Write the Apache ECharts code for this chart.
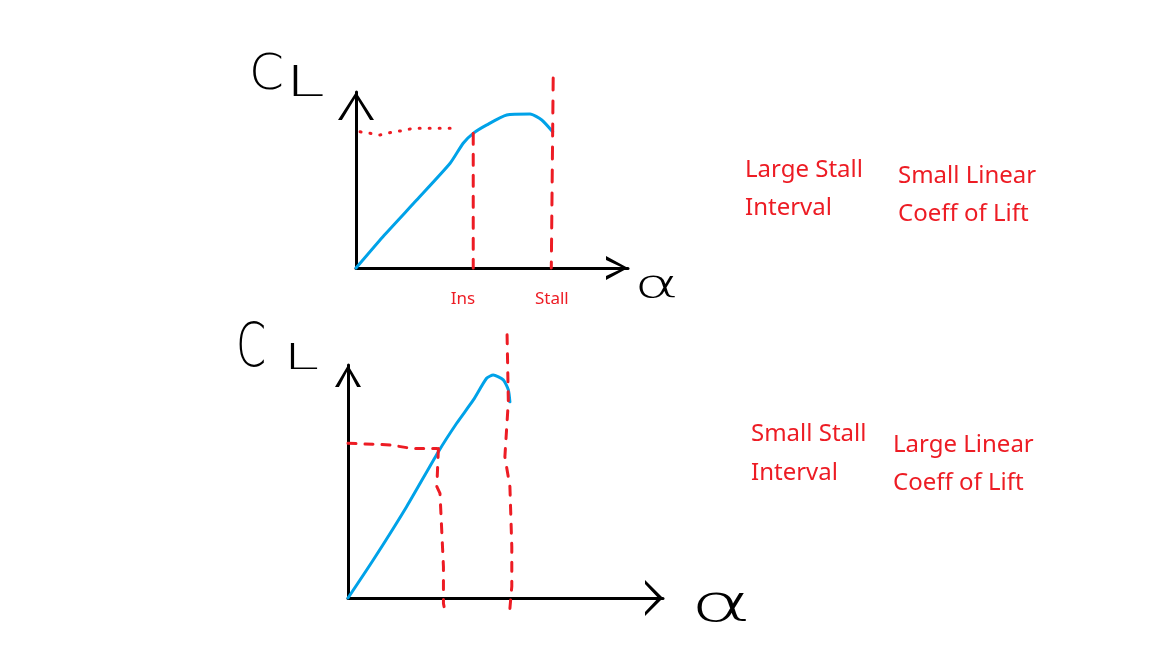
<!DOCTYPE html>
<html>
<head>
<meta charset="utf-8">
<script src="https://cdn.jsdelivr.net/npm/echarts@6/dist/echarts.min.js"></script>
<style>
html,body{margin:0;padding:0;background:#fff;}
#chart{width:1152px;height:648px;}
</style>
</head>
<body>
<div id="chart"></div>
<script>
// ---------- data ----------
// top sketch: large stall interval, small linear lift slope
const topAlpha = [0, 0.99, 2.23, 3.46, 3.94, 4.31, 4.81, 5.54, 6.40, 6.83, 7.23];
const topCL    = [0, 1.78, 3.86, 5.95, 7.09, 7.65, 8.13, 8.69, 8.75, 8.41, 7.74];
const topInsAlpha = [4.31, 4.31];
const topInsCL    = [7.65, 0];
const topStallAlpha = [7.25, 7.18];
const topStallCL    = [10.8, 0];
const topInsLevelAlpha = [0.15, 0.88, 1.31, 1.68, 2.11, 3.46];
const topInsLevelCL    = [7.74, 7.56, 7.71, 7.80, 7.94, 7.94];
const topTickValues = [3.93, 7.2];
const topTickLabels = ['Ins', 'Stall'];

// bottom sketch: small stall interval, large linear lift slope
const botAlpha = [0, 0.80, 1.86, 2.87, 3.45, 3.98, 4.40, 4.61, 4.93, 5.09, 5.14];
const botCL    = [0, 1.63, 3.92, 6.28, 7.50, 8.50, 9.43, 9.57, 9.36, 8.93, 8.42];
const botInsAlpha = [2.87, 2.82, 2.92, 3.03, 3.03, 3.05];
const botInsCL    = [6.42, 4.78, 4.49, 1.34, -0.23, -0.37];
const botStallAlpha = [5.05, 5.09, 4.98, 5.14, 5.20, 5.20, 5.14];
const botStallCL    = [11.3, 8.43, 6.06, 4.78, 2.2, 0.5, -0.45];
const botInsLevelAlpha = [0.0, 1.33, 2.02, 2.82];
const botInsLevelCL    = [6.64, 6.57, 6.42, 6.42];

const notesTop = [['Large Stall', 'Interval'], ['Small Linear', 'Coeff of Lift']];
const notesBot = [['Small Stall', 'Interval'], ['Large Linear', 'Coeff of Lift']];

// ---------- helpers ----------
const RED = '#ed1c24', BLUE = '#00a2e8', INK = '#000000';
const zip = (a, b) => a.map((v, i) => [v, b[i]]);
function chevron(W, H, t) {
  // open arrowhead pointing up, box W x H
  return 'path://M0,' + H + ' L' + (W / 2) + ',0 L' + W + ',' + H +
    ' L' + (W - t * 1.3) + ',' + H + ' L' + (W / 2) + ',' + (t * 1.6) +
    ' L' + (t * 1.3) + ',' + H + ' Z';
}
function axisPair(gridIndex, xArrow, yArrow, xLabels) {
  const base = {
    type: 'value', gridIndex: gridIndex, min: 0, max: 10,
    splitLine: { show: false }, axisTick: { show: false }
  };
  const x = Object.assign({}, base, {
    axisLine: {
      show: true, onZero: false,
      lineStyle: { color: INK, width: 3 },
      symbol: ['none', chevron(xArrow[0], xArrow[1], 3)],
      symbolSize: xArrow, symbolOffset: [0, -xArrow[1] / 2]
    },
    axisLabel: xLabels ? {
      show: true, customValues: xLabels.values, color: RED, fontSize: 17,
      fontFamily: 'Noto Sans', margin: 23,
      formatter: v => xLabels.labels[xLabels.values.indexOf(v)] || ''
    } : { show: false }
  });
  const y = Object.assign({}, base, {
    axisLine: {
      show: true, onZero: false,
      lineStyle: { color: INK, width: 3 },
      symbol: ['none', chevron(yArrow[0], yArrow[1], 3)],
      symbolSize: yArrow, symbolOffset: [0, -yArrow[1] / 2]
    },
    axisLabel: { show: false }
  });
  return [x, y];
}
function lineSeries(idx, data, color, dash, smooth) {
  return {
    type: 'line', xAxisIndex: idx, yAxisIndex: idx, data: data,
    showSymbol: false, symbol: 'none', clip: false, smooth: smooth || false,
    lineStyle: { color: color, width: 3, type: dash || 'solid', cap: 'round' },
    silent: true, z: color === BLUE ? 3 : 4
  };
}
function noteTexts(notes, cols, rows) {
  const out = [];
  notes.forEach((col, c) => col.forEach((txt, r) => out.push({
    type: 'text', left: cols[c], top: rows[c][r] - 10,
    style: { text: txt, fill: RED, fontSize: 24, fontFamily: 'Noto Sans' }
  })));
  return out;
}
function handText(txt, x, y, size, sx) {
  return {
    type: 'text', x: x, y: y, scaleX: sx || 1, originX: 0, originY: 0,
    style: { text: txt, x: 0, y: 0, align: 'left', verticalAlign: 'top',
      fill: INK, fontSize: size, fontFamily: 'DejaVu Sans', fontWeight: 300 }
  };
}

const [tx, ty] = axisPair(0, [24, 22], [36, 28], { values: topTickValues, labels: topTickLabels });
const [bx, by] = axisPair(1, [36, 18], [26, 22], null);

const option = {
  backgroundColor: '#ffffff',
  animation: false,
  grid: [
    { left: 356, top: 92, width: 272, height: 176, outerBoundsMode: 'none', containLabel: false },
    { left: 348, top: 365, width: 315, height: 233, outerBoundsMode: 'none', containLabel: false }
  ],
  xAxis: [tx, bx],
  yAxis: [ty, by],
  series: [
    lineSeries(0, zip(topInsLevelAlpha, topInsLevelCL), RED, [1, 9]),
    lineSeries(0, zip(topInsAlpha, topInsCL), RED, [11, 10]),
    lineSeries(0, zip(topStallAlpha, topStallCL), RED, [12, 11]),
    lineSeries(0, zip(topAlpha, topCL), BLUE, 'solid', 0.2),
    lineSeries(1, zip(botInsLevelAlpha, botInsLevelCL), RED, [8, 9]),
    lineSeries(1, zip(botInsAlpha, botInsCL), RED, [9, 10]),
    lineSeries(1, zip(botStallAlpha, botStallCL), RED, [9, 10]),
    lineSeries(1, zip(botAlpha, botCL), BLUE, 'solid', 0.2)
  ],
  graphic: [
    handText('C', 249, 51, 50),
    handText('L', 285, 64, 42, 1.7),
    handText('α', 634, 268, 38, 1.8),
    handText('C', 236, 320, 60, 0.72),
    handText('L', 283, 342, 36, 1.8),
    handText('α', 690, 581, 52, 1.8)
  ].concat(
    noteTexts(notesTop, [745, 898], [[168, 206], [174, 212]]),
    noteTexts(notesBot, [751, 893], [[432, 471], [443, 481]])
  )
};

const chart = echarts.init(document.getElementById('chart'), null, { renderer: 'canvas' });
chart.setOption(option);
</script>
</body>
</html>
